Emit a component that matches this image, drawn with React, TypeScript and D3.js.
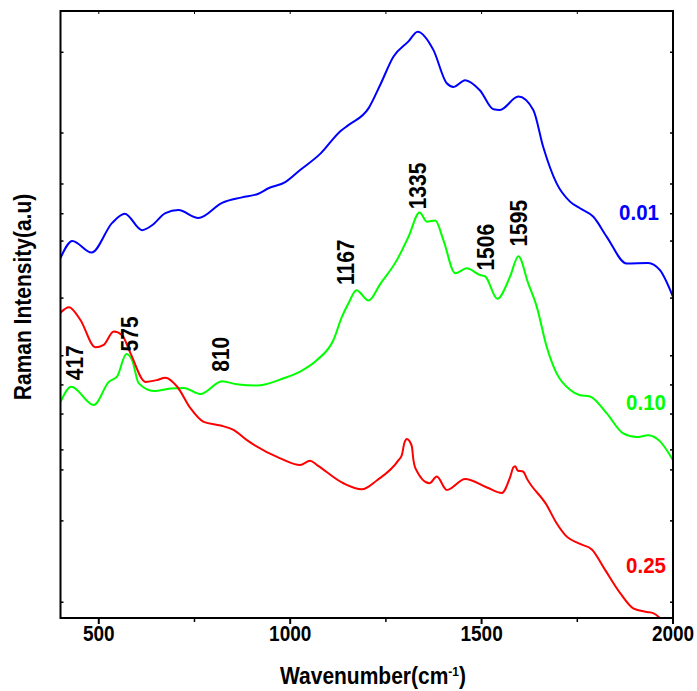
import React from 'react';
import * as d3 from 'd3';

// ---- Data ----
const xDomain = [400, 2000];
const yDomain = [0, 100];
const xMajorTicks = [500, 1000, 1500, 2000];
const xMinorTicks = [750, 1250, 1750];
const yTickValues = [93.2, 79.9, 71.5, 66.6, 62.1, 52.7, 43.2, 38.4, 33.6, 27.7, 24.4, 16.0, 2.6];

const blueWn = [400, 431, 481, 535, 568, 613, 639, 674, 708, 760, 822, 874, 917, 943, 987, 1026, 1079, 1131, 1152, 1205, 1235, 1270, 1309, 1333, 1374, 1409, 1427, 1457, 1496, 1531, 1548, 1596, 1635, 1661, 1696, 1731, 1757, 1792, 1827, 1879, 1935, 1966, 2000];
const blueInt = [59.3, 62.1, 60.2, 65.1, 66.6, 63.9, 64.7, 66.7, 67.2, 65.9, 68.4, 69.3, 69.9, 70.8, 71.8, 73.8, 76.5, 80.2, 81.2, 84.0, 87.8, 92.5, 95.0, 96.6, 93.6, 88.1, 87.5, 88.6, 86.9, 83.8, 83.7, 85.9, 83.7, 77.6, 71.6, 68.6, 67.5, 66.1, 62.8, 58.4, 58.5, 57.3, 52.9];

const greenWn = [400, 428, 487, 526, 548, 572, 587, 604, 644, 687, 722, 765, 822, 861, 913, 983, 1026, 1070, 1113, 1135, 1152, 1173, 1205, 1235, 1279, 1309, 1338, 1357, 1379, 1400, 1431, 1461, 1496, 1509, 1541, 1574, 1596, 1622, 1644, 1670, 1696, 1731, 1757, 1783, 1827, 1870, 1905, 1935, 1966, 2000];
const greenInt = [35.6, 38.1, 35.1, 38.9, 39.8, 43.5, 42.5, 38.7, 37.4, 37.8, 37.9, 36.9, 39.0, 38.5, 38.3, 39.5, 40.6, 42.5, 45.8, 49.6, 51.8, 54.0, 52.3, 55.0, 59.0, 62.8, 66.8, 65.3, 65.5, 62.3, 56.8, 57.6, 56.5, 56.3, 52.6, 56.2, 59.6, 55.1, 51.3, 44.7, 40.3, 37.6, 36.7, 36.5, 33.7, 30.4, 29.8, 30.1, 29.1, 26.0];

const redWn = [400, 422, 452, 491, 513, 539, 561, 583, 622, 652, 674, 705, 739, 774, 818, 852, 887, 974, 1026, 1052, 1070, 1139, 1187, 1227, 1283, 1292, 1298, 1305, 1312, 1318, 1322, 1327, 1364, 1383, 1409, 1457, 1514, 1553, 1575, 1583, 1588, 1594, 1609, 1618, 1670, 1696, 1718, 1757, 1788, 1819, 1862, 1896, 1932, 1948, 1966];
const redInt = [50.3, 51.2, 49.1, 44.6, 45.0, 47.2, 46.6, 43.6, 38.9, 39.2, 39.6, 38.1, 34.6, 32.3, 31.7, 31.0, 29.3, 26.3, 25.2, 25.9, 25.2, 22.2, 21.2, 22.7, 26.0, 26.9, 28.8, 29.5, 29.1, 28.2, 26.0, 24.7, 22.2, 23.3, 21.1, 22.9, 21.5, 20.6, 23.3, 24.8, 25.0, 24.3, 24.1, 23.0, 18.6, 15.6, 13.7, 12.2, 11.3, 8.3, 4.1, 1.6, 1.0, 0.8, 0.0];

const seriesNames = ['0.01', '0.10', '0.25'];
const seriesColors = ['#0000FF', '#00FF00', '#FF0000'];

const peakLabels = ['417', '575', '810', '1167', '1335', '1506', '1595'];
const peakWn = [428, 572, 822, 1173, 1338, 1509, 1596];

// ---- Layout ----
const W = 697;
const H = 691;
const left = 60.5;
const right = 673;
const top = 11;
const bottom = 618;
const FONT = 'Arial, "Liberation Sans", Helvetica, sans-serif';
const STRETCH = 1.12;

function SText(props: {
  x: number;
  y: number;
  rotate?: number;
  size: number;
  fill?: string;
  anchor?: string;
  children: React.ReactNode;
}) {
  const { x, y, rotate = 0, size, fill = '#000', anchor = 'middle', children } = props;
  return (
    <text
      transform={`translate(${x},${y}) rotate(${rotate}) scale(1,${STRETCH})`}
      textAnchor={anchor}
      dy="0.36em"
      fontSize={size}
      fontWeight="bold"
      fill={fill}
    >
      {children}
    </text>
  );
}

export default function App() {
  const x = d3.scaleLinear().domain(xDomain).range([left, right]);
  const y = d3.scaleLinear().domain(yDomain).range([bottom, top]);
  const line = d3
    .line<[number, number]>()
    .x((d) => x(d[0]))
    .y((d) => y(d[1]))
    .curve(d3.curveMonotoneX);

  const series = [
    { wn: blueWn, v: blueInt },
    { wn: greenWn, v: greenInt },
    { wn: redWn, v: redInt },
  ].map((s) => s.wn.map((w, i) => [w, s.v[i]] as [number, number]));

  // label positions (px offsets from green peak points)
  const peakOffsets = [
    [3.5, -24], // 417
    [3.4, -20], // 575
    [-2, -27], // 810
    [-10.6, -28], // 1167
    [-2, -26.5], // 1335
    [0.6, -29], // 1506
    [0, -33], // 1595
  ];
  const greenPeakY = (w: number) => greenInt[greenWn.indexOf(w)];

  const seriesLabelPos = [
    { x: 639, y: 212 },
    { x: 646, y: 402 },
    { x: 646, y: 565 },
  ];

  return (
    <svg
      width={W}
      height={H}
      style={{ position: 'absolute', left: 0, top: 0, display: 'block', background: '#fff' }}
      fontFamily={FONT}
    >
      <defs>
        <clipPath id="plotClip">
          <rect x={left} y={top} width={right - left} height={bottom - top} />
        </clipPath>
      </defs>

      {/* curves */}
      <g clipPath="url(#plotClip)">
        {series.map((pts, i) => (
          <path
            key={i}
            d={line(pts) || ''}
            fill="none"
            stroke={seriesColors[i]}
            strokeWidth={2}
            strokeLinejoin="round"
          />
        ))}
      </g>

      {/* frame */}
      <rect x={left} y={top} width={right - left} height={bottom - top} fill="none" stroke="#000" strokeWidth={2} />

      {/* x ticks bottom (outward) & top (inward) */}
      {xMajorTicks.map((t) => (
        <g key={'M' + t}>
          <line x1={x(t)} x2={x(t)} y1={bottom} y2={bottom + 6} stroke="#000" strokeWidth={2} />
          <line x1={x(t)} x2={x(t)} y1={top} y2={top + 3} stroke="#000" strokeWidth={1} />
          <SText x={x(t)} y={633} size={19}>
            {t}
          </SText>
        </g>
      ))}
      {xMinorTicks.map((t) => (
        <g key={'m' + t}>
          <line x1={x(t)} x2={x(t)} y1={bottom} y2={bottom + 4} stroke="#000" strokeWidth={1.5} />
          <line x1={x(t)} x2={x(t)} y1={top} y2={top + 3} stroke="#000" strokeWidth={1} />
        </g>
      ))}

      {/* y ticks (inward, both sides) */}
      {yTickValues.map((t, i) => (
        <g key={'y' + i}>
          <line x1={left} x2={left + 3} y1={y(t)} y2={y(t)} stroke="#000" strokeWidth={1.5} />
          <line x1={right - 3} x2={right} y1={y(t)} y2={y(t)} stroke="#000" strokeWidth={1.5} />
        </g>
      ))}

      {/* axis titles */}
      <text
        transform={`translate(373,676) scale(1,${STRETCH})`}
        dy="0.36em"
        textAnchor="middle"
        fontSize={21}
        fontWeight="bold"
        fill="#000"
      >
        Wavenumber(cm
        <tspan dy={-8} fontSize={12}>-1</tspan>
        <tspan dy={8}>)</tspan>
      </text>
      <text
        transform={`translate(23,297) rotate(-90) scale(1,${STRETCH})`}
        dy="0.36em"
        textAnchor="middle"
        fontSize={21}
        fontWeight="bold"
        fill="#000"
      >
        Raman Intensity(a.u)
      </text>

      {/* peak labels */}
      {peakLabels.map((lab, i) => {
        const px = x(peakWn[i]) + peakOffsets[i][0];
        const py = y(greenPeakY(peakWn[i])) + peakOffsets[i][1];
        return (
          <SText key={lab} x={px} y={py} rotate={-90} size={21}>
            {lab}
          </SText>
        );
      })}

      {/* series labels */}
      {seriesNames.map((n, i) => (
        <SText key={n} x={seriesLabelPos[i].x} y={seriesLabelPos[i].y} size={20.5} fill={seriesColors[i]}>
          {n}
        </SText>
      ))}
    </svg>
  );
}
